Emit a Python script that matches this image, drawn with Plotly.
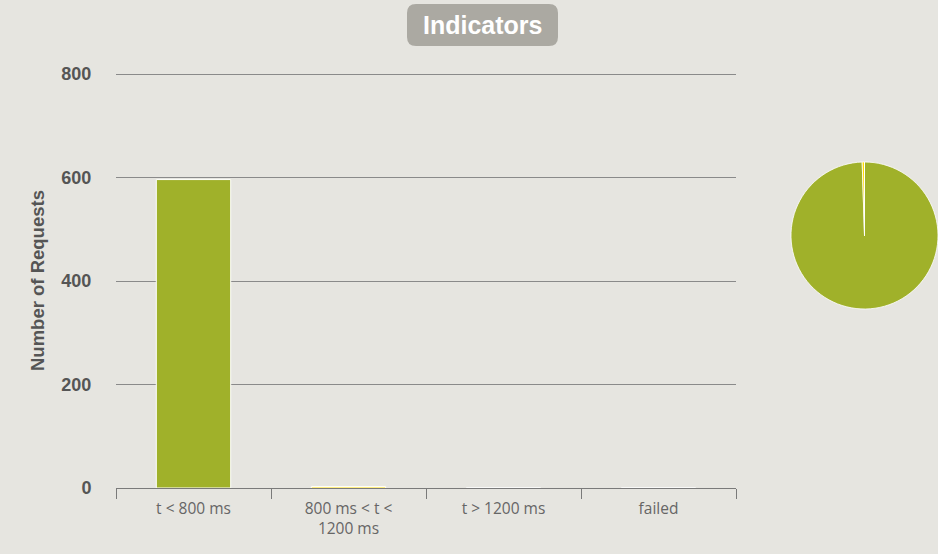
import plotly.graph_objects as go

categories = ["t < 800 ms", "800 ms < t <<br>1200 ms", "t > 1200 ms", "failed"]
counts = [596, 3, 0, 0]
colors = ["#A0B12A", "#FFDD00", "#FF9D00", "#FF0000"]
pie_labels = ["t < 800 ms", "800 ms < t < 1200 ms", "t > 1200 ms", "failed"]
y_ticks = [0, 200, 400, 600, 800]
y_title = "Number of Requests"
chart_title = "Indicators"

W, H = 938, 554
BG = "#E6E5E0"

# pixel geometry of the plot area
Y0_PX, Y800_PX = 488, 74
YMAX = 806
ppu = (Y0_PX - Y800_PX) / 800.0
top_px = Y0_PX - YMAX * ppu

def px(x):
    return x / W

def py(y):
    return 1 - y / H

fig = go.Figure()
fig.add_trace(go.Bar(
    x=categories, y=counts, marker=dict(color=colors, line=dict(color="white", width=1)),
    width=0.48, showlegend=False, xaxis="x", yaxis="y",
))
fig.add_trace(go.Pie(
    labels=pie_labels, values=counts, sort=False, direction="clockwise", rotation=0,
    marker=dict(colors=colors, line=dict(color="white", width=0.8)),
    textinfo="none", showlegend=False,
    domain=dict(x=[791 / W, 1.0], y=[py(313), py(158)]),
))

# rounded title box
x0, x1, y0, y1, r = 407, 558, 4, 46, 9
path = (
    f"M {px(x0 + r)} {py(y0)} L {px(x1 - r)} {py(y0)} "
    f"Q {px(x1)} {py(y0)} {px(x1)} {py(y0 + r)} L {px(x1)} {py(y1 - r)} "
    f"Q {px(x1)} {py(y1)} {px(x1 - r)} {py(y1)} L {px(x0 + r)} {py(y1)} "
    f"Q {px(x0)} {py(y1)} {px(x0)} {py(y1 - r)} L {px(x0)} {py(y0 + r)} "
    f"Q {px(x0)} {py(y0)} {px(x0 + r)} {py(y0)} Z"
)

fig.update_layout(
    width=W, height=H,
    margin=dict(l=0, r=0, t=0, b=0, autoexpand=False),
    paper_bgcolor=BG, plot_bgcolor=BG,
    xaxis=dict(
        domain=[116 / W, 736 / W], automargin=False,
        showgrid=False, showline=True, linecolor="#7a7a7a", linewidth=1,
        ticks="outside", tickson="boundaries", ticklen=10, tickcolor="#7a7a7a", tickwidth=1,
        ticklabelstandoff=6,
        tickfont=dict(family="Open Sans, DejaVu Sans, sans-serif", size=15.5, color="#666666"),
        fixedrange=True,
    ),
    yaxis=dict(
        domain=[py(Y0_PX), py(top_px)], automargin=False,
        range=[0, YMAX], tickvals=y_ticks,
        showgrid=True, gridcolor="#8a8a8a", gridwidth=1, zeroline=False,
        ticks="outside", ticklen=20, tickcolor="rgba(0,0,0,0)",
        tickfont=dict(family="Liberation Sans, Arial, sans-serif", size=18, color="#555555", weight="bold"),
        fixedrange=True,
    ),
    shapes=[dict(type="path", path=path, xref="paper", yref="paper",
                 fillcolor="#ABA9A2", line=dict(width=0), layer="below")],
    annotations=[
        dict(text="<b>" + chart_title + "</b>", x=px((x0 + x1) / 2), y=py((y0 + y1) / 2),
             xref="paper", yref="paper", xanchor="center", yanchor="middle",
             showarrow=False,
             font=dict(family="Liberation Sans, Arial, sans-serif", size=25, color="white")),
        dict(text="<b>" + y_title + "</b>", x=px(37), y=py(281), textangle=-90,
             xref="paper", yref="paper", xanchor="center", yanchor="middle",
             showarrow=False,
             font=dict(family="Liberation Sans, Arial, sans-serif", size=18.5, color="#555555")),
    ],
)

fig.write_html(
    "out.html",
    config={"displayModeBar": False},
    post_script="document.body.style.margin='0';document.body.style.background='" + BG + "';",
)
